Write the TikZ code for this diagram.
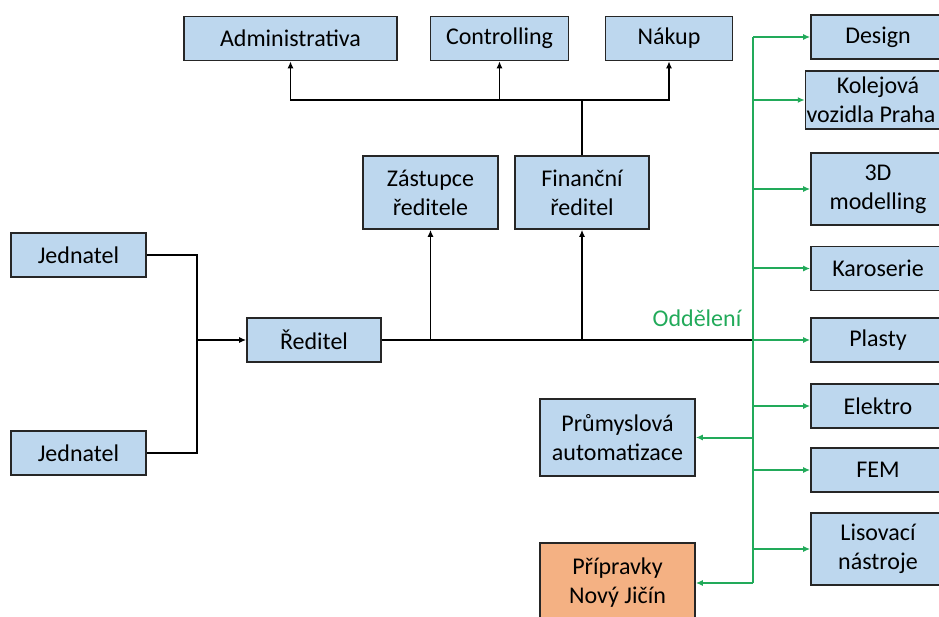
\documentclass[tikz,border=0pt]{standalone}
\usepackage{fontspec}
\setmainfont{Carlito}
\usepackage{tikz}
\usetikzlibrary{arrows.meta,positioning}

\definecolor{boxblue}{RGB}{189,215,238}
\definecolor{boxorange}{RGB}{244,177,131}
\definecolor{deptgreen}{RGB}{34,170,90}

\begin{document}
\begin{tikzpicture}[
    x=1pt, y=-1pt,
    box/.style={draw=black!85, line width=1.6pt, fill=boxblue, align=center, inner sep=1pt,
      minimum width=134pt, minimum height=44pt, font=\fontsize{24}{29}\selectfont},
    orgbox/.style={box, fill=boxorange},
    link/.style={line width=1.7pt},
    arrow/.style={link, -{Latex[length=7pt,width=6pt]}},
    garrow/.style={line width=2pt, deptgreen, -{Latex[length=7pt,width=6pt]}},
    lab/.style={font=\fontsize{24}{29}\selectfont, text=deptgreen, inner sep=0pt}
  ]
    \useasboundingbox (0,0) rectangle (939,617);

    \node[box, minimum width=213pt] (adm) at (290.5,38.5) {Administrativa};
    \node[box, minimum width=138pt] (ctrl) at (499.5,38.5) {Controlling};
    \node[box, minimum width=127pt] (nakup) at (669,38.5) {Nákup};

    \node[box, minimum height=73pt, minimum width=135pt] (zast) at (430.5,192.5) {Zástupce\\ředitele};
    \node[box, minimum height=73pt] (fin) at (582,192.5) {Finanční\\ředitel};

    \node[box, minimum width=135pt] (jed1) at (78.5,255) {Jednatel};
    \node[box, minimum width=135pt] (jed2) at (78.5,453) {Jednatel};
    \node[box] (red) at (314,340) {Ředitel};

    \node[box] (design) at (878,37) {Design};
    \node[box, minimum height=58pt] (kolej) at (878,100) {Kolejová\\vozidla Praha\kern14pt};
    \node[box, minimum height=72pt] (modell) at (878,189) {3D\\modelling};
    \node[box] (karos) at (878,268.5) {Karoserie};
    \node[box] (plasty) at (878,340) {Plasty};
    \node[box] (elektro) at (878,406) {Elektro};
    \node[box] (fem) at (878,470) {FEM};
    \node[box, minimum height=72pt] (lisov) at (878,549) {Lisovací\\nástroje};

    \node[box, minimum width=155pt, minimum height=77pt] (prum) at (617.5,437.5) {Průmyslová\\automatizace};
    \node[orgbox, minimum width=155pt, minimum height=80pt] (pripr) at (617.5,583) {Přípravky\\Nový Jičín};

    \node[lab] (odd) at (697,318) {Oddělení};

    \coordinate (jn) at (197,340);
    \coordinate (top) at (582,100);
    \coordinate (gx) at (753,0);

    % jednatele -> reditel
    \draw[link] (jed1.east) -| (jn);
    \draw[link] (jed2.east) -| (jn);
    \draw[arrow] (jn) -- (red.west);

    % reditel
    \draw[link] (red.east) -- (gx |- plasty.west);
    \draw[arrow] (red.east -| zast.south) -- (zast.south);
    \draw[arrow] (red.east -| fin.south) -- (fin.south);

    % financni reditel
    \draw[link] (fin.north) -- (top);
    \draw[arrow] (top) -| (adm.south);
    \draw[arrow] (top) -| (ctrl.south);
    \draw[arrow] (top) -| (nakup.south);

    % oddeleni
    \draw[line width=2pt, deptgreen] (gx |- design.west) -- (gx |- pripr.east);
    \foreach \d in {design,kolej,modell,karos,plasty,elektro,fem,lisov}
      \draw[garrow] (gx |- \d.west) -- (\d.west);
    \draw[garrow] (gx |- prum.east) -- (prum.east);
    \draw[garrow] (gx |- pripr.east) -- (pripr.east);
  \end{tikzpicture}
\end{document}
